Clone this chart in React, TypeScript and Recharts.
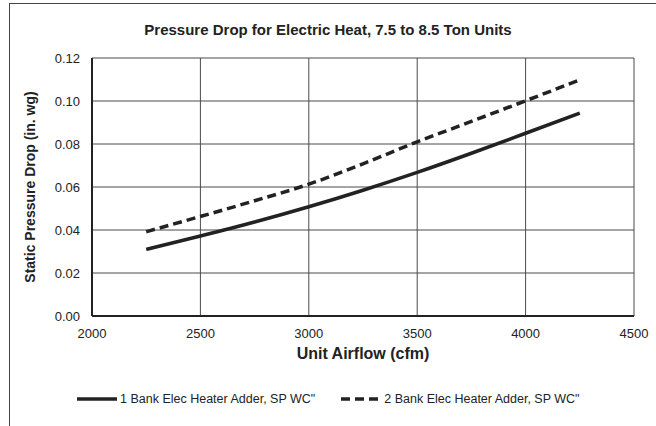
import React from "react";
import { LineChart, Line, XAxis, YAxis, CartesianGrid, Legend } from "recharts";

const airflow = [2250, 2500, 2750, 3000, 3250, 3500, 3750, 4000, 4250];
const oneBank = [0.031, 0.0372, 0.0437, 0.0508, 0.0585, 0.0668, 0.0757, 0.085, 0.0944];
const twoBank = [0.0392, 0.0463, 0.0536, 0.0613, 0.0708, 0.081, 0.0905, 0.1001, 0.1098];
const xTicks = [2000, 2500, 3000, 3500, 4000, 4500];
const yTicks = [0, 0.02, 0.04, 0.06, 0.08, 0.1, 0.12];
const seriesNames = ['1 Bank Elec Heater Adder, SP WC"', '2 Bank Elec Heater Adder, SP WC"'];
const title = "Pressure Drop for Electric Heat, 7.5 to 8.5 Ton Units";
const xLabel = "Unit Airflow (cfm)";
const yLabel = "Static Pressure Drop (in. wg)";

const data = airflow.map((x, i) => ({ x, one: oneBank[i], two: twoBank[i] }));

const FONT = "'Liberation Sans', Arial, sans-serif";
const INK = "#222";

const LegendContent = () => (
  <div style={{ display: "flex", alignItems: "center", fontFamily: FONT, fontSize: 12.5, color: INK }}>
    {seriesNames.map((n, i) => (
      <div key={n} style={{ display: "flex", alignItems: "center", marginRight: i === 0 ? 26 : 0 }}>
        <svg width={40} height={6} style={{ marginRight: 3 }}>
          <line x1={0} y1={3} x2={40} y2={3} stroke={INK} strokeWidth={3.5}
            strokeDasharray={i === 1 ? "9 5" : undefined} />
        </svg>
        <span>{n}</span>
      </div>
    ))}
  </div>
);

const YLabel = (props: any) => {
  const vb = props.viewBox || { x: 0, y: 0, width: 0, height: 0 };
  const cx = 30;
  const cy = vb.y + vb.height / 2;
  return (
    <text x={cx} y={cy} transform={`rotate(-90, ${cx}, ${cy})`} textAnchor="middle"
      dominantBaseline="central" fontFamily={FONT} fontSize={14} fontWeight="bold" fill={INK}>
      {yLabel}
    </text>
  );
};

export default function App() {
  return (
    <div style={{ position: "absolute", left: 0, top: 0, width: 656, height: 426, background: "#fff", overflow: "hidden" }}>
      <div style={{ position: "absolute", left: 9, top: 3, width: 700, height: 500, borderLeft: "1.5px solid #444", borderTop: "1.5px solid #444" }} />
      <div style={{ position: "absolute", left: 0, top: 21, width: 656, textAlign: "center", fontFamily: FONT, fontSize: 15, fontWeight: "bold", color: INK }}>
        {title}
      </div>
      <LineChart width={656} height={426} data={data}
        margin={{ top: 58, right: 22, bottom: 80, left: 8 }}
        style={{ position: "absolute", left: 0, top: 0 }}>
        <CartesianGrid stroke="#4a4a4a" strokeWidth={1} />
        <XAxis dataKey="x" type="number" domain={[2000, 4500]} ticks={xTicks} height={30}
          tickSize={0} tickMargin={13} axisLine={{ stroke: INK, strokeWidth: 2 }}
          tick={{ fontFamily: FONT, fontSize: 13, fill: INK }}
          label={{ value: xLabel, position: "bottom", offset: 2, fontFamily: FONT, fontSize: 16, fontWeight: "bold", fill: INK }} />
        <YAxis type="number" domain={[0, 0.12]} ticks={yTicks} width={84}
          tickSize={0} tickMargin={12} axisLine={{ stroke: INK, strokeWidth: 2 }}
          tickFormatter={(v: number) => v.toFixed(2)}
          tick={{ fontFamily: FONT, fontSize: 13, fill: INK }}
          label={<YLabel />} />
        <Line dataKey="one" name={seriesNames[0]} type="monotone" stroke={INK} strokeWidth={3.5}
          dot={false} isAnimationActive={false} />
        <Line dataKey="two" name={seriesNames[1]} type="monotone" stroke={INK} strokeWidth={3.5}
          strokeDasharray="9 5" dot={false} isAnimationActive={false} />
        <Legend layout="horizontal" verticalAlign="middle" content={<LegendContent />}
          wrapperStyle={{ position: "absolute", left: 77, top: 392, width: "auto" }} />
      </LineChart>
    </div>
  );
}
